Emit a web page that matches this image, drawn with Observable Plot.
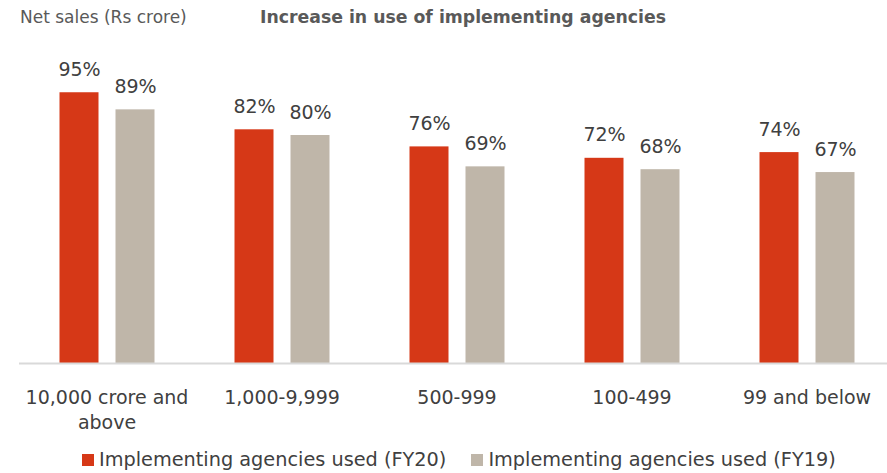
<!DOCTYPE html>
<html>
<head>
<meta charset="utf-8">
<script src="https://cdn.jsdelivr.net/npm/d3@7"></script>
<script src="https://cdn.jsdelivr.net/npm/@observablehq/plot@0.6"></script>
<style>
  html, body { margin: 0; padding: 0; background: #fff; overflow: hidden; }
  #wrap { position: relative; width: 887px; height: 473px; overflow: hidden; font-family: "DejaVu Sans", sans-serif; color: #404040; }
  #axisnote { position: absolute; left: 20px; top: 5px; font-size: 17px; line-height: 24px; color: #595959; white-space: nowrap; }
  #title { position: absolute; left: 260px; top: 5px; font-size: 17.3px; line-height: 24px; font-weight: bold; color: #595959; white-space: nowrap; }
  #chart { position: absolute; left: 0; top: 36px; width: 894px; }
  #chart svg { max-width: none !important; }
  #legend { position: absolute; left: 82px; top: 448px; display: flex; font-size: 19.3px; line-height: 24px; white-space: nowrap; }
  .item { display: flex; align-items: center; margin-right: 25px; }
  .sw { width: 12px; height: 12px; margin-right: 5px; }
</style>
</head>
<body>
<div id="wrap">
  <div id="axisnote">Net sales (Rs crore)</div>
  <div id="title">Increase in use of implementing agencies</div>
  <div id="chart"></div>
  <div id="legend"></div>
</div>
<script>
const categories = ["10,000 crore and above", "1,000-9,999", "500-999", "100-499", "99 and below"];
const tickLabels = ["10,000 crore and\nabove", "1,000-9,999", "500-999", "100-499", "99 and below"];
const series = ["Implementing agencies used (FY20)", "Implementing agencies used (FY19)"];
const fy20 = [95, 82, 76, 72, 74];
const fy19 = [89, 80, 69, 68, 67];
const colors = ["#D63817", "#BFB6A9"];

const data = [];
categories.forEach((c, i) => {
  data.push({cat: c, series: series[0], value: fy20[i]});
  data.push({cat: c, series: series[1], value: fy19[i]});
});

const chart = Plot.plot({
  width: 894,
  height: 404,
  marginLeft: 18.5,
  marginRight: 0,
  marginTop: 42,
  marginBottom: 77,
  style: {fontFamily: "DejaVu Sans", fontSize: "19px", color: "#404040", background: "white", maxWidth: "none"},
  fx: {domain: categories, padding: 0, label: null},
  x: {domain: series, paddingInner: 0.311, paddingOuter: 0.7015, axis: null},
  y: {domain: [0, 100], axis: null},
  color: {domain: series, range: colors},
  marks: [
    Plot.barY(data, {fx: "cat", x: "series", y: "value", fill: "series"}),
    Plot.text(data, {fx: "cat", x: "series", y: "value", text: d => d.value + "%", lineAnchor: "bottom", dy: -17, fontSize: 19, fill: "#404040"}),
    Plot.ruleY([0], {stroke: "#d9d9d9", strokeWidth: 2}),
    Plot.axisFx({anchor: "bottom", tickSize: 0, tickPadding: 22.5, fontSize: 19, lineHeight: 1.32, label: null,
      tickFormat: d => tickLabels[categories.indexOf(d)]})
  ]
});
document.getElementById("chart").appendChild(chart);

const legend = document.getElementById("legend");
series.forEach((s, i) => {
  const item = document.createElement("div");
  item.className = "item";
  const sw = document.createElement("span");
  sw.className = "sw";
  sw.style.background = colors[i];
  const t = document.createElement("span");
  t.textContent = s;
  item.appendChild(sw);
  item.appendChild(t);
  legend.appendChild(item);
});
</script>
</body>
</html>
